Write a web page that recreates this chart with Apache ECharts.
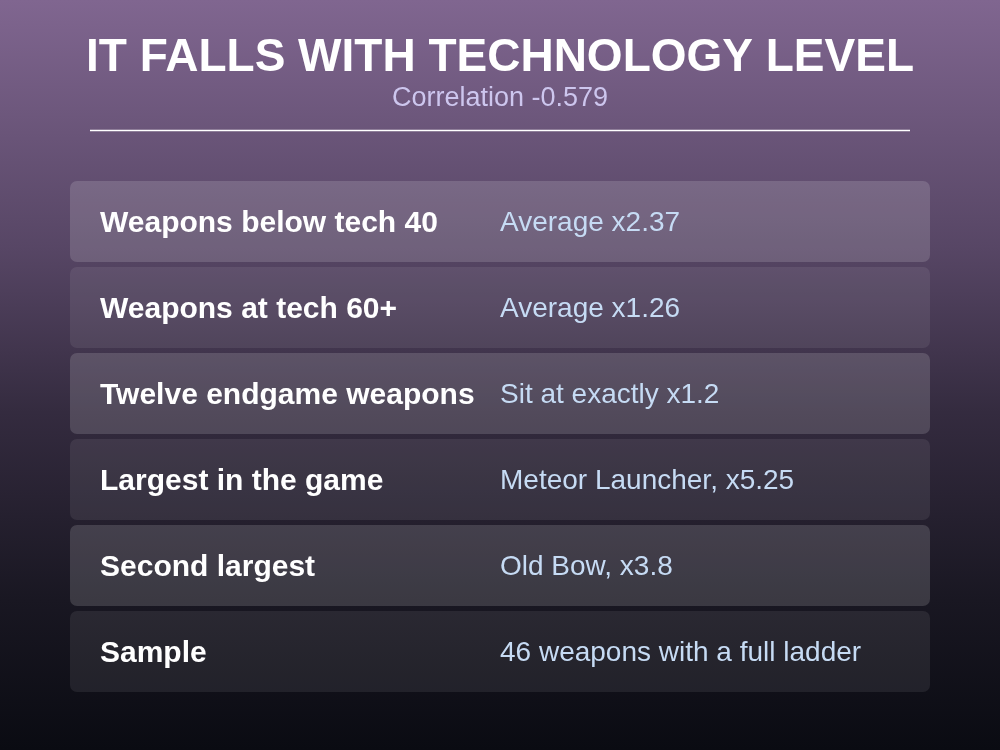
<!DOCTYPE html>
<html lang="en">
<head>
    <meta charset="UTF-8">
    <title>It falls with technology level</title>
    <style>
        html, body { margin: 0; padding: 0; background: #0a0b13; }
        #main { width: 1000px; height: 750px; }
    </style>
</head>
<body>
    <div id="main"></div>

    <script src="https://cdn.jsdelivr.net/npm/echarts@6/dist/echarts.min.js"></script>
    <script>
        // table content
        var rowLabels = ['Weapons below tech 40', 'Weapons at tech 60+', 'Twelve endgame weapons',
            'Largest in the game', 'Second largest', 'Sample'];
        var rowValues = ['Average x2.37', 'Average x1.26', 'Sit at exactly x1.2',
            'Meteor Launcher, x5.25', 'Old Bow, x3.8', '46 weapons with a full ladder'];

        var titleText = 'IT FALLS WITH TECHNOLOGY LEVEL';
        var subText = 'Correlation -0.579';

        var font = '"Liberation Sans", Arial, Helvetica, sans-serif';

        var myChart = echarts.init(document.getElementById('main'));

        myChart.setOption({
            backgroundColor: {
                type: 'linear', x: 0, y: 0, x2: 0, y2: 1,
                colorStops: [
                    {offset: 0, color: '#806690'},
                    {offset: 0.33, color: '#574665'},
                    {offset: 0.55, color: '#342b3f'},
                    {offset: 0.8, color: '#191722'},
                    {offset: 1, color: '#0a0b12'}
                ]
            },
            animation: false,
            title: {
                text: titleText,
                subtext: subText,
                left: 'center',
                top: 30,
                itemGap: 4,
                textStyle: {
                    color: '#ffffff',
                    fontFamily: font,
                    fontWeight: 'bold',
                    fontSize: 46,
                    lineHeight: 46
                },
                subtextStyle: {
                    color: '#cdc6ee',
                    fontFamily: font,
                    fontSize: 27,
                    lineHeight: 28
                }
            },
            graphic: [{
                type: 'line',
                shape: {x1: 90, y1: 130.5, x2: 910, y2: 130.5},
                style: {stroke: '#ffffff', lineWidth: 1.5}
            }],
            grid: {left: 70, right: 70, top: 178.5, height: 516},
            xAxis: {type: 'value', min: 0, max: 1, show: false},
            yAxis: {type: 'category', data: rowLabels, inverse: true, show: false},
            series: [{
                type: 'custom',
                data: rowLabels.map(function (l, i) { return [1, i]; }),
                encode: {x: 0, y: 1},
                renderItem: function (params, api) {
                    var idx = api.value(1);
                    var cy = api.coord([0, idx])[1];
                    var band = api.size([0, 1])[1];
                    var cs = params.coordSys;
                    return {
                        type: 'group',
                        children: [{
                            type: 'rect',
                            shape: {x: cs.x, y: cy - band / 2 + 2.5, width: cs.width, height: band - 5, r: 7},
                            style: {fill: idx % 2 === 0 ? 'rgba(255,255,255,0.15)' : 'rgba(255,255,255,0.08)'}
                        }, {
                            type: 'text',
                            x: cs.x + 30, y: cy + 2,
                            style: {
                                text: rowLabels[idx], fill: '#ffffff',
                                font: 'bold 30px ' + font,
                                verticalAlign: 'middle', align: 'left'
                            }
                        }, {
                            type: 'text',
                            x: cs.x + 430, y: cy + 2,
                            style: {
                                text: rowValues[idx], fill: '#c6dbf4',
                                font: '28px ' + font,
                                verticalAlign: 'middle', align: 'left'
                            }
                        }]
                    };
                }
            }]
        });
    </script>
</body>
</html>
